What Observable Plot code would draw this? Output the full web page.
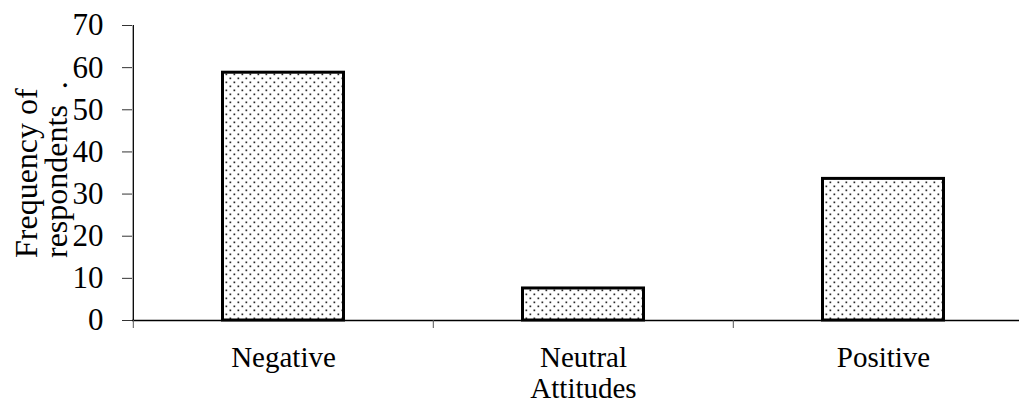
<!DOCTYPE html>
<html>
<head>
<meta charset="utf-8">
<script src="https://cdn.jsdelivr.net/npm/d3@7"></script>
<script src="https://cdn.jsdelivr.net/npm/@observablehq/plot@0.6"></script>
<style>
  html, body { margin: 0; padding: 0; background: #fff; }
</style>
</head>
<body>
<div id="chart"></div>
<script>
const categories = ["Negative", "Neutral", "Positive"];
const tickLabels = ["Negative", "Neutral\nAttitudes", "Positive"];
const values = [58.8, 7.6, 33.6];
const yTicks = [0, 10, 20, 30, 40, 50, 60, 70];
const yLabel = "Frequency of\nrespondents\u00a0\u00a0.";

const data = categories.map((c, i) => ({ category: c, value: values[i] }));
const labelOf = new Map(categories.map((c, i) => [c, tickLabels[i]]));

const plot = Plot.plot({
  width: 1019,
  height: 403,
  marginLeft: 132,
  marginRight: -14,
  marginTop: 25,
  marginBottom: 83,
  style: { fontFamily: "'Liberation Serif', 'Times New Roman', serif", fontSize: "31px", color: "#000", background: "#fff" },
  x: { domain: categories, padding: 0, label: null },
  y: { domain: [0, 70], label: null },
  marks: [
    Plot.barY(data, {
      x: "category", y: "value",
      fill: "url(#dots)", stroke: "#000", strokeWidth: 3,
      insetLeft: 89.5, insetRight: 89.5
    }),
    Plot.ruleY([0], { stroke: "#000", strokeWidth: 1.3 }),
    Plot.ruleX([categories[0]], { dx: -150.2, y1: 0, y2: 70, stroke: "#000", strokeWidth: 1.3 }),
    Plot.axisY({ ticks: yTicks, tickSize: 10, tickPadding: 19, fontSize: 31, stroke: "#333", label: null }),
    Plot.axisX({ tickSize: 8, tickFormat: () => "", dx: -150.2, stroke: "#555", label: null }),
    Plot.axisX({ tickSize: 0, tickPadding: 24, tickFormat: (d) => labelOf.get(d), fontSize: 29, lineHeight: 1.08, label: null }),
    Plot.text([yLabel], {
      frameAnchor: "left", rotate: -90, textAnchor: "start", lineAnchor: "middle",
      lineHeight: 0.95, fontSize: 32, dx: -90, dy: 85, fill: "#000"
    })
  ]
});

const svg = d3.select(plot);
const defs = svg.insert("defs", ":first-child");
const pat = defs.append("pattern").attr("id", "dots").attr("patternUnits", "userSpaceOnUse")
  .attr("width", 8).attr("height", 8);
pat.append("rect").attr("width", 8).attr("height", 8).attr("fill", "#fff");
pat.append("rect").attr("x", 1.5).attr("y", 1.5).attr("width", 1.7).attr("height", 1.7).attr("fill", "#2a2a2a");
pat.append("rect").attr("x", 5.5).attr("y", 5.5).attr("width", 1.7).attr("height", 1.7).attr("fill", "#2a2a2a");

document.getElementById("chart").appendChild(plot);
</script>
</body>
</html>
